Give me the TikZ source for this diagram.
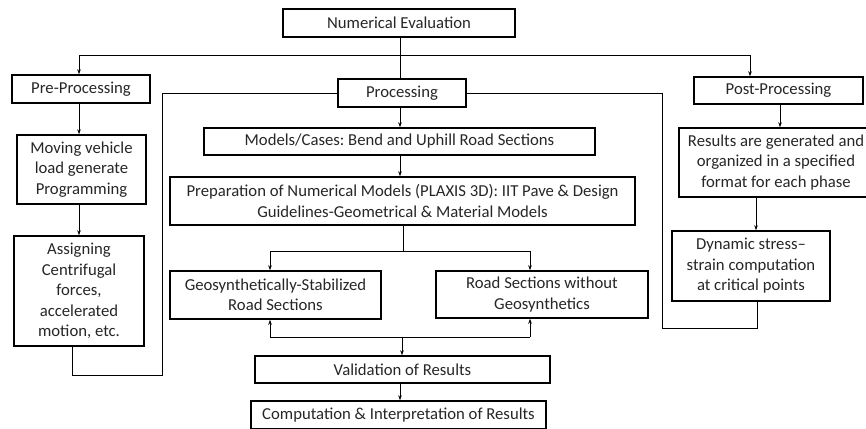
\documentclass[tikz,border=0pt]{standalone}
\usepackage{fontspec}
\setmainfont{Carlito}
\frenchspacing
\usetikzlibrary{arrows.meta}
\tikzset{
  box/.style={draw, line width=1.4bp, inner sep=0pt, align=center, text=black!85,
    font=\fontsize{16.7bp}{20.5bp}\selectfont},
  arr/.style={line width=0.9bp, -{Stealth[length=5bp,width=3.5bp]}},
  link/.style={line width=0.9bp}
}
\begin{document}
\begin{tikzpicture}[x=1bp,y=-1bp]
\useasboundingbox (0,0) rectangle (866,428);

% Boxes
\node [box, minimum width=232bp, minimum height=28bp] (eval) at (399,23) {Numerical Evaluation};
\node [box, minimum width=138bp, minimum height=28bp] (pre) at (81,89) {Pre-Processing};
\node [box, minimum width=128bp, minimum height=28bp] (proc) at (402,93) {Processing};
\node [box, minimum width=169bp, minimum height=27bp] (post) at (778.5,90.5) {Post-Processing};
\node [box, minimum width=391bp, minimum height=27bp] (models) at (399.5,141.5) {Models/Cases: Bend and Uphill Road Sections};
\node [box, minimum width=194bp, minimum height=69bp] (results) at (776,162.5) {Results are generated and\\organized in a specified\\format for each phase};
\node [box, minimum width=129bp, minimum height=69bp] (moving) at (81.5,169.5) {Moving vehicle\\load generate\\Programming};
\node [box, minimum width=130bp, minimum height=110bp] (assign) at (79,291) {Assigning\\Centrifugal\\forces,\\accelerated\\motion, etc.};
\node [box, minimum width=465bp, minimum height=48bp] (prep) at (402.5,201) {Preparation of Numerical Models (PLAXIS 3D): IIT Pave \& Design\\Guidelines-Geometrical \& Material Models};
\node [box, minimum width=211bp, minimum height=48bp] (geo) at (275.5,295) {Geosynthetically-Stabilized\\Road Sections};
\node [box, minimum width=212bp, minimum height=47bp] (road) at (542,294.5) {Road Sections without\\Geosynthetics};
\node [box, minimum width=158bp, minimum height=70bp] (dyn) at (751,266) {Dynamic stress--\\strain computation\\at critical points};
\node [box, minimum width=295bp, minimum height=27bp] (valid) at (402.5,369.5) {Validation of Results};
\node [box, minimum width=295bp, minimum height=28bp] (comp) at (398.5,415) {Computation \& Interpretation of Results};

% Junctions
\coordinate (top) at (400,55);
\coordinate (lsplit) at (79,55);
\coordinate (rsplit) at (750,55);
\coordinate (mid) at (403,251);
\coordinate (lmid) at (270,251);
\coordinate (rmid) at (530,251);
\coordinate (low) at (402,337);
\coordinate (llow) at (270,337);
\coordinate (rlow) at (530,337);

% Top branches
\draw [link] (eval.south -| top) -- (proc.north -| top);
\draw [link] (lsplit) -- (rsplit);
\draw [arr] (lsplit) -- (lsplit |- pre.north);
\draw [arr] (rsplit) -- (rsplit |- post.north);

% Left column
\draw [arr] (pre.south -| lsplit) -- (moving.north -| lsplit);
\draw [arr] (moving.south -| lsplit) -- (lsplit |- assign.north);
\draw [link] (proc.west) -- (162,93) -- (162,375) -- (72,375) -- (72,0 |- assign.south);

% Right column
\draw [arr] (post.south -| 780,0) -- (results.north -| 780,0);
\draw [arr] (results.south -| 756,0) -- (dyn.north -| 756,0);
\draw [link] (proc.east) -- (662,93) -- (662,328) -- (757,328) -- (757,0 |- dyn.south);

% Middle column
\draw [arr] (proc.south -| top) -- (models.north -| top);
\draw [arr] (models.south -| top) -- (prep.north -| top);
\draw [link] (prep.south -| mid) -- (mid);
\draw [link] (lmid) -- (rmid);
\draw [arr] (lmid) -- (lmid |- geo.north);
\draw [arr] (rmid) -- (rmid |- road.north);
\draw [link] (llow) -- (rlow);
\draw [arr] (llow) -- (llow |- geo.south);
\draw [arr] (rlow) -- (rlow |- road.south);
\draw [arr] (low) -- (low |- valid.north);
\draw [arr] (valid.south -| top) -- (comp.north -| top);
\end{tikzpicture}
\end{document}
